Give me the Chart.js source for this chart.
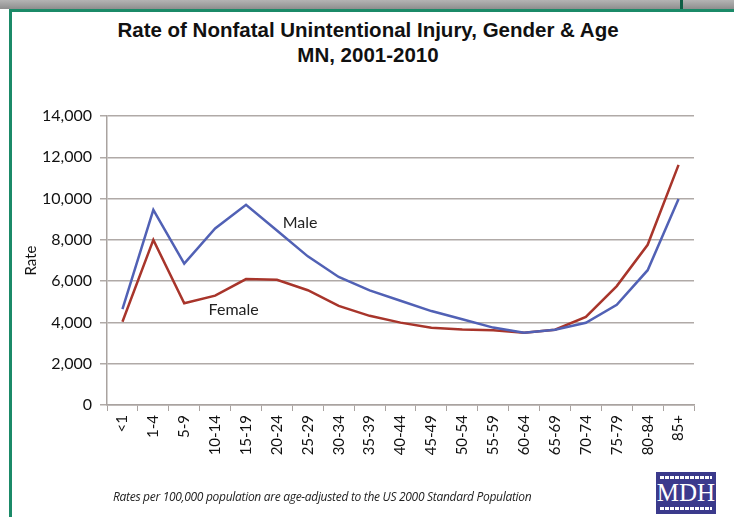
<!DOCTYPE html>
<html>
<head>
<meta charset="utf-8">
<script src="https://cdn.jsdelivr.net/npm/chart.js@4/dist/chart.umd.min.js"></script>
<style>
  html, body { margin: 0; padding: 0; }
  body { width: 734px; height: 517px; position: relative; overflow: hidden; background: #fff; }
  #topbar { position: absolute; left: 0; top: 0; width: 734px; height: 9px;
    background: linear-gradient(#b4b4b4, #8e8e8e); }
  #notch { position: absolute; left: 680px; top: 0; width: 3px; height: 9px; background: #0f5e45; }
  #frame { position: absolute; left: 9px; top: 9px; width: 740px; height: 520px;
    border-left: 3px solid #1b8a68; border-top: 3px solid #1b8a68; box-sizing: border-box; }
  #wrap { position: absolute; left: 0; top: 0; width: 734px; height: 517px; }
  #title { position: absolute; left: 68px; width: 600px; top: 17px; text-align: center; white-space: nowrap;
    font: bold 20.5px/25px "Liberation Sans", sans-serif; color: #111; }
  #note { position: absolute; left: 113px; top: 488px; font: italic 12px "Open Sans", sans-serif;
    color: #222; letter-spacing: -0.3px; }
  #logo { position: absolute; left: 656px; top: 472px; width: 60px; height: 42px; background: #3b3a8c;
    color: #fff; font: 25px "Liberation Serif", serif; text-align: center; line-height: 42px;
    box-sizing: border-box; }
  #logo .bar { position: absolute; left: 4px; right: 4px; height: 3px;
    background: repeating-linear-gradient(90deg, #fff 0 4px, #3b3a8c 4px 5px); }
</style>
</head>
<body>
<div id="topbar"></div>
<div id="notch"></div>
<div id="frame"></div>
<div id="title">Rate of Nonfatal Unintentional Injury, Gender &amp; Age<br>MN, 2001-2010</div>
<div id="wrap"><canvas id="myChart"></canvas></div>
<div id="note">Rates per 100,000 population are age-adjusted to the US 2000 Standard Population</div>
<div id="logo"><div class="bar" style="top:4px"></div>MDH<div class="bar" style="bottom:4px"></div></div>
<script>
'use strict';
// age groups along the bottom
var ageGroups = ['<1', '1-4', '5-9', '10-14', '15-19', '20-24', '25-29', '30-34', '35-39', '40-44',
  '45-49', '50-54', '55-59', '60-64', '65-69', '70-74', '75-79', '80-84', '85+'];
// rates per 100,000
var maleRates = [4650, 9450, 6850, 8550, 9700, 8450, 7200, 6200, 5550, 5050,
  4550, 4150, 3750, 3500, 3650, 3980, 4850, 6530, 9980];
var femaleRates = [4030, 8000, 4930, 5300, 6100, 6070, 5560, 4800, 4320, 3990,
  3740, 3660, 3620, 3500, 3650, 4270, 5760, 7760, 11630];
var yTicks = [0, 2000, 4000, 6000, 8000, 10000, 12000, 14000];
// in-chart labels: [text, x index, y value]
var lineLabels = [['Male', 5.75, 8800], ['Female', 3.6, 4600]];

// writes Male / Female next to the lines
var lineLabelPlugin = {
  id: 'lineLabels',
  afterDatasetsDraw: function(chart) {
    var ctx = chart.ctx;
    ctx.save();
    ctx.font = '16px Lato, sans-serif';
    ctx.fillStyle = '#222';
    ctx.textAlign = 'center';
    ctx.textBaseline = 'middle';
    for (var i = 0; i < lineLabels.length; i++) {
      var x = chart.scales.x.getPixelForValue(lineLabels[i][1]);
      var y = chart.scales.y.getPixelForValue(lineLabels[i][2]);
      ctx.fillText(lineLabels[i][0], x, y);
    }
    ctx.restore();
  }
};

var ctx = document.getElementById('myChart').getContext('2d');
new Chart(ctx, {
  type: 'line',
  data: {
    labels: ageGroups,
    datasets: [
      {
        label: 'Male',
        data: maleRates,
        borderColor: '#5161b5',
        borderWidth: 2.5,
        pointRadius: 0,
        tension: 0
      },
      {
        label: 'Female',
        data: femaleRates,
        borderColor: '#a8352b',
        borderWidth: 2.5,
        pointRadius: 0,
        tension: 0
      }
    ]
  },
  options: {
    responsive: true,
    maintainAspectRatio: false,
    animation: false,
    layout: { padding: { left: 22, right: 40, top: 116, bottom: 0 } },
    plugins: {
      legend: { display: false },
      tooltip: { enabled: false }
    },
    scales: {
      x: {
        offset: true,
        grid: { offset: true, drawOnChartArea: false, drawTicks: true, tickLength: 6, color: '#a9a3a0' },
        border: { color: '#a9a3a0', width: 1.5 },
        ticks: {
          minRotation: 90, maxRotation: 90, autoSkip: false, padding: 4,
          color: '#111', font: { family: 'Lato', size: 15 }
        },
        afterFit: function(scale) { scale.height = 112; }
      },
      y: {
        min: 0,
        max: 14000,
        afterBuildTicks: function(scale) {
          scale.ticks = yTicks.map(function(v) { return { value: v }; });
        },
        grid: { color: '#b0aaa7', lineWidth: 1.5, tickLength: 7 },
        border: { color: '#a9a3a0', width: 1.5 },
        ticks: {
          padding: 8, color: '#111', font: { family: 'Lato', size: 16 },
          callback: function(v) { return v.toLocaleString('en-US'); }
        },
        title: { display: true, text: 'Rate', color: '#111', font: { family: 'Lato', size: 15 }, padding: 0 },
        afterFit: function(scale) { scale.width = 85; }
      }
    }
  },
  plugins: [lineLabelPlugin]
});
</script>
</body>
</html>
